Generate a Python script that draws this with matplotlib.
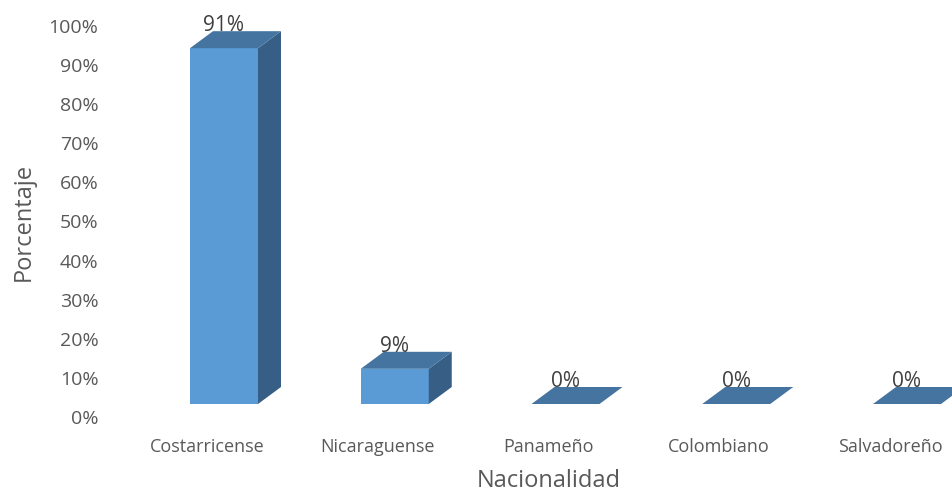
import matplotlib
matplotlib.use("Agg")
import matplotlib.pyplot as plt
from matplotlib.patches import Polygon
from matplotlib.ticker import FuncFormatter

categories = ["Costarricense", "Nicaraguense", "Panameño", "Colombiano", "Salvadoreño"]
porcentajes = [91, 9, 0, 0, 0]
etiquetas = ["91%", "9%", "0%", "0%", "0%"]
y_ticks = [0, 10, 20, 30, 40, 50, 60, 70, 80, 90, 100]

FRONT = "#5B9BD5"
TOP = "#44749F"
SIDE = "#375F86"
GRIS = "#595959"

plt.rcParams["font.family"] = ["Open Sans", "DejaVu Sans"]

W, H = 953, 495
fig = plt.figure(figsize=(W / 100, H / 100), dpi=100)
# area del grafico en pixeles: x 115..953, y 26..417
ax = fig.add_axes([115 / W, (H - 417) / H, (W - 115) / W, 391 / H])

px_x = 1 / 170.75          # unidades de categoria por pixel
px_y = 100 / 391           # % por pixel
x0 = -(207 - 115) * px_x
ax.set_xlim(x0, x0 + (W - 115) * px_x)
ax.set_ylim(0, 100)

# geometria 3D (en unidades de datos)
off_x = 17 * px_x
off_y = 13 * px_y
ancho = 68 * px_x
dx = 23 * px_x
dy = 17 * px_y

xs = list(range(len(categories)))
for x, v, lab in zip(xs, porcentajes, etiquetas):
    l = x + off_x - ancho / 2
    r = l + ancho
    b = off_y
    t = off_y + v
    if v > 0:
        ax.add_patch(Polygon([(l, b), (r, b), (r, t), (l, t)], closed=True,
                             facecolor=FRONT, edgecolor="none", clip_on=False, zorder=3))
        ax.add_patch(Polygon([(r, b), (r + dx, b + dy), (r + dx, t + dy), (r, t)], closed=True,
                             facecolor=SIDE, edgecolor="none", clip_on=False, zorder=3))
    ax.add_patch(Polygon([(l, t), (r, t), (r + dx, t + dy), (l + dx, t + dy)], closed=True,
                         facecolor=TOP, edgecolor="none", clip_on=False, zorder=3))
    ax.text(x + off_x, t + dy, lab, ha="center", va="baseline",
            fontsize=15, color="#404040", zorder=4)

ax.set_xticks(xs)
ax.set_xticklabels(categories)
ax.set_yticks(y_ticks)
ax.yaxis.set_major_formatter(FuncFormatter(lambda v, p: f"{v:.0f}%"))
ax.tick_params(axis="y", length=0, pad=12, labelsize=14, labelcolor=GRIS)
ax.tick_params(axis="x", length=0, pad=15, labelsize=13, labelcolor=GRIS)
for s in ax.spines.values():
    s.set_visible(False)
ax.patch.set_visible(False)

fig.text(549 / W, 1 - 481 / H, "Nacionalidad", ha="center", va="center",
         fontsize=17, color=GRIS)
fig.text(24 / W, 1 - 222 / H, "Porcentaje", rotation=90, ha="center", va="center",
         fontsize=17, color=GRIS)

fig.savefig("out.png", dpi=100)
